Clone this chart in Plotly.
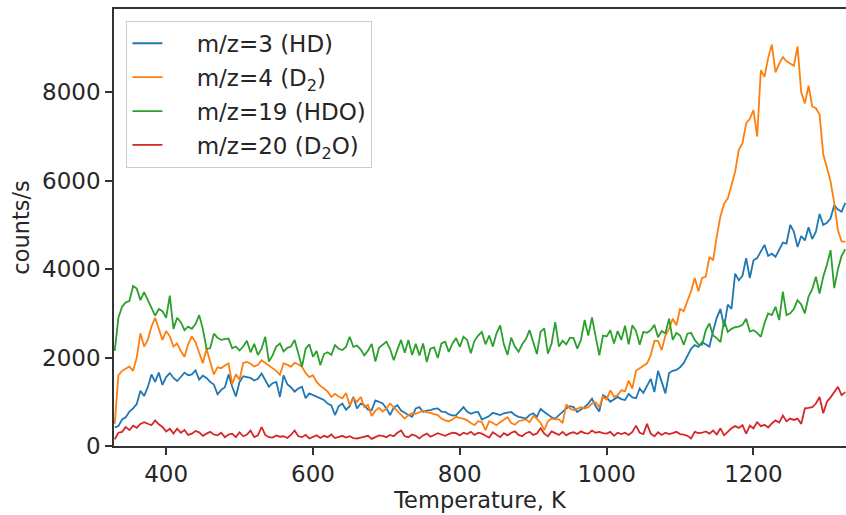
import plotly.graph_objects as go

# temperature grid, K
temperature = list(range(330, 1330, 5))

# m/z=3 (HD), counts/s
hd = [
    420, 450, 600, 650, 780, 850, 950, 1250, 1130, 1330,
    1620, 1450, 1660, 1380, 1560, 1650, 1540, 1470, 1560, 1660,
    1600, 1620, 1710, 1500, 1590, 1540, 1450, 1390, 1170, 1270,
    1330, 1620, 1340, 1120, 1450, 1580, 1560, 1540, 1480, 1520,
    1640, 1480, 1340, 1420, 1450, 1110, 1600, 1400, 1330, 1230,
    1300, 1340, 1080, 1190, 1150, 1110, 1070, 1040, 960, 920,
    700, 900, 960, 820, 900, 1110, 850, 960, 920, 820,
    810, 1030, 1000, 960, 850, 700, 870, 920, 800, 740,
    700, 660, 850, 880, 770, 800, 810, 840, 850, 780,
    770, 720, 690, 700, 780, 880, 780, 730, 760, 770,
    600, 640, 680, 750, 720, 700, 740, 760, 770, 700,
    660, 640, 620, 700, 740, 660, 840, 770, 700, 650,
    620, 700, 760, 850, 900, 880, 770, 820, 880, 960,
    1070, 900, 780, 1150, 1100, 1000, 1050, 1110, 1060, 1040,
    1180, 1100, 1080, 1300, 1200, 1350, 1520, 1220, 1700, 1450,
    1190, 1650, 1700, 1720, 1780, 1880, 2050, 2200, 2280, 2240,
    2350, 2300, 2250, 2600, 2900, 3100, 2700, 3200, 3100, 3900,
    3750, 3850, 4250, 3800, 4200, 4250, 4400, 4550, 4300, 4350,
    4280, 4450, 4600, 4580, 5000, 4850, 4500, 4750, 4650, 4950,
    4680, 4850, 5250, 5000, 5050, 5150, 5450, 5350, 5300, 5500,
]

# m/z=4 (D2)
d2 = [
    500, 1600, 1700, 1750, 1800, 1700, 2000, 2550, 2250, 2400,
    2700, 2900, 2650, 2400, 2600, 2480, 2250, 2320, 2150, 2020,
    2300, 2480, 2350, 2100, 1870, 2200, 1900, 1620, 1780, 1760,
    1820, 1870, 1400, 1620, 1500, 1880, 1900, 1860, 1800, 1830,
    1940, 1880, 1820, 1760, 1700, 1610, 1870, 1840, 1790, 1880,
    1850, 1790, 1650, 1560, 1600, 1450, 1360, 1300, 1230, 1110,
    1180, 1120, 1080, 1200, 920, 1080, 1000, 1110, 880, 930,
    680, 800, 860, 780, 850, 960, 880, 780, 700, 620,
    700, 740, 730, 760, 800, 760, 750, 720, 700, 620,
    580, 560, 600, 660, 630, 620, 580, 520, 470, 560,
    540, 360, 560, 520, 470, 540, 600, 650, 520, 480,
    560, 580, 600, 540, 680, 620, 520, 360, 560, 620,
    600, 600, 520, 940, 850, 810, 850, 880, 850, 880,
    960, 990, 880, 1120, 1050, 1260, 1110, 1150, 1260, 1240,
    1480, 1300, 1700, 1760, 1830, 1870, 2050, 2380, 2380, 2170,
    2500, 2650, 2880, 2730, 3100, 3050, 3280, 3500, 3800, 3500,
    3800, 3830, 4280, 4200, 4740, 5200, 5480, 5600, 5900, 6200,
    6700, 6850, 7300, 7400, 7600, 7000, 8500, 8350, 8780, 9080,
    8450, 8650, 8800, 8700, 8650, 8600, 9040, 8000, 7750, 8150,
    7680, 7640, 7500, 6600, 6300, 5980, 5500, 4880, 4630, 4620,
]

# m/z=19 (HDO)
hdo = [
    2150, 2900, 3150, 3250, 3280, 3620, 3560, 3300, 3480, 3300,
    3150, 2950, 3100, 3050, 2900, 3400, 2650, 2900, 2800, 2620,
    2700, 2650, 2760, 2960, 2650, 2200, 2210, 2540, 2450, 2400,
    2420, 2430, 2210, 2250, 2160, 2250, 2380, 2120, 2310, 2060,
    2200, 2470, 1910, 2050, 2250, 2320, 2140, 2220, 2250, 2400,
    2100, 1790, 2200, 2300, 2020, 2150, 1830, 2080, 2120, 2060,
    2280, 2200, 2170, 2240, 2470, 2240, 2270, 2180, 2050, 2160,
    2310, 1910, 2220, 2300, 2360, 2200, 1940, 2180, 2400, 2110,
    2400, 2060, 2310, 2050, 2320, 1900, 2200, 2230, 1990, 2320,
    2360, 2130, 2320, 2440, 2240, 2470, 2400, 2100, 2380, 2500,
    2580, 2300, 2500, 2250, 2550, 2730, 2300, 2060, 2450, 2250,
    2130, 2300, 2420, 2620, 2350, 2080, 2580, 2660, 2090, 2320,
    2800, 2250, 2380, 2300, 2450, 2440, 2200, 2400, 2850, 2500,
    2910, 2450, 2050, 2500, 2480, 2620, 2320, 2600, 2400, 2720,
    2300, 2730, 2600, 2290, 2580, 2560, 2620, 2740, 2460, 2600,
    2550, 2880, 2400, 2560, 2500, 2290, 2540, 2560, 2400, 2300,
    2290, 2620, 2770, 2500, 2440, 2350, 2850, 2580, 2650, 2690,
    2700, 2740, 2880, 2590, 2620, 2560, 2470, 2780, 3000, 2960,
    3150, 2850, 3490, 2960, 3000, 3100, 3300, 3200, 3000, 3380,
    3550, 3830, 3450, 3830, 4100, 4430, 3570, 4000, 4300, 4450,
]

# m/z=20 (D2O)
d2o = [
    150, 300, 320, 430, 360, 460, 410, 500, 540, 510,
    470, 580, 490, 430, 330, 390, 280, 390, 300, 360,
    250, 280, 340, 310, 230, 280, 320, 260, 240, 300,
    200, 260, 280, 200, 310, 220, 260, 350, 200, 240,
    430, 250, 200, 190, 240, 210, 220, 180, 250, 350,
    220, 200, 250, 170, 200, 240, 180, 230, 200, 260,
    180, 210, 230, 190, 220, 180, 170, 190, 210, 230,
    160, 200, 240, 230, 200, 250, 220, 300, 350, 220,
    200, 260, 230, 170, 240, 280, 210, 250, 290, 260,
    230, 270, 300, 290, 240, 300, 270, 320, 250, 300,
    280, 230, 190, 310, 260, 200, 290, 240, 300, 330,
    250, 220, 290, 320, 250, 280, 400, 280, 220, 330,
    290, 250, 320, 240, 290, 310, 270, 330, 290, 280,
    350, 300, 320, 290, 280, 320, 230, 300, 270, 300,
    250, 320, 460, 300, 270, 500, 280, 220, 310, 250,
    300, 270, 290, 320, 270, 260, 230, 170, 320, 290,
    300, 330, 280, 350, 260, 400, 240, 330, 400, 450,
    410, 470, 280, 460, 400, 540, 450, 480, 420, 510,
    580, 530, 690, 560, 620, 590, 620, 500, 850, 860,
    880, 960, 1110, 740, 1000, 1100, 1220, 1340, 1150, 1220,
]

pad = "\u00a0\u00a0\u00a0\u00a0"
series = [
    (pad + "m/z=3 (HD)", hd, "#1f77b4"),
    (pad + "m/z=4 (D<sub>2</sub>)", d2, "#ff7f0e"),
    (pad + "m/z=19 (HDO)", hdo, "#2ca02c"),
    (pad + "m/z=20 (D<sub>2</sub>O)", d2o, "#d62728"),
]

text_color = "#262626"
spine_color = "#333333"

fig = go.Figure()
for i, (name, values, color) in enumerate(series):
    fig.add_trace(go.Scatter(
        x=temperature,
        y=values,
        mode="lines",
        name=name,
        legendgroup=str(i),
        line=dict(color=color, width=1.8),
    ))

fig.update_layout(
    width=846,
    height=515,
    margin=dict(l=114, r=0, t=9, b=69),
    paper_bgcolor="white",
    plot_bgcolor="white",
    font=dict(family="DejaVu Sans", size=23, color=text_color),
    legend=dict(
        x=0.017, y=0.973, xanchor="left", yanchor="top",
        bgcolor="rgba(255,255,255,0.8)",
        bordercolor="#cccccc", borderwidth=1,
        tracegroupgap=1,
        font=dict(size=23),
    ),
    xaxis=dict(
        range=[329, 1326],
        tickvals=[400, 600, 800, 1000, 1200],
        showgrid=False, zeroline=False, automargin=False,
        showline=True, linecolor=spine_color, linewidth=1.5, mirror=True,
        ticks="outside", ticklen=7, tickwidth=1.5, tickcolor=spine_color,
        tickfont=dict(size=23),
        title=dict(text="Temperature, K", standoff=0, font=dict(size=22.5)),
    ),
    yaxis=dict(
        range=[0, 9885],
        tickvals=[0, 2000, 4000, 6000, 8000],
        showgrid=False, zeroline=False, automargin=False,
        showline=True, linecolor=spine_color, linewidth=1.5,
        ticks="outside", ticklen=7, tickwidth=1.5, tickcolor=spine_color,
        tickfont=dict(size=23),
        title=dict(text="counts/s", standoff=6, font=dict(size=22.5)),
    ),
)

fig.write_html("out.html", config={"displayModeBar": False},
               post_script="document.body.style.margin='0';")
